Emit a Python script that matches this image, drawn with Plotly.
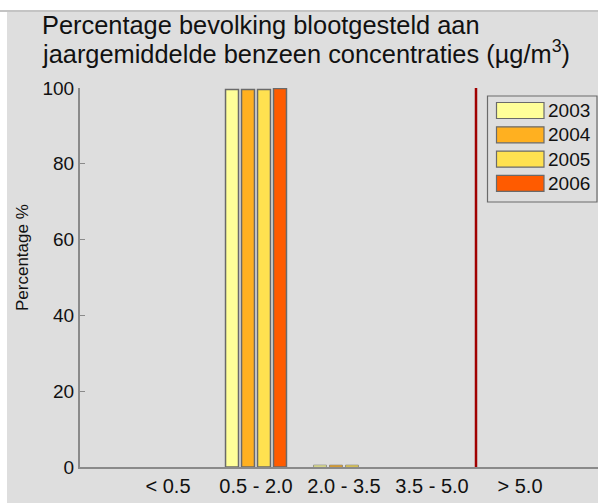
import plotly.graph_objects as go

# Concentration classes (µg/m³) and share of population per year (%)
categories = ["< 0.5", "0.5 - 2.0", "2.0 - 3.5", "3.5 - 5.0", "> 5.0"]
years = ["2003", "2004", "2005", "2006"]
pct_2003 = [0, 99.6, 0.5, 0, 0]
pct_2004 = [0, 99.6, 0.5, 0, 0]
pct_2005 = [0, 99.6, 0.5, 0, 0]
pct_2006 = [0, 99.9, 0.0, 0, 0]
series = [pct_2003, pct_2004, pct_2005, pct_2006]
colors = ["#FFFF99", "#FFB020", "#FFE150", "#FF5B00"]
y_ticks = [0, 20, 40, 60, 80, 100]
limit_pos = 3.5  # boundary between 3.5 - 5.0 and > 5.0 classes
title_lines = ["Percentage bevolking blootgesteld aan",
               "jaargemiddelde benzeen concentraties (µg/m<sup>3</sup>)"]

W, H = 598, 503
L, R, T, B = 80, 598, 88, 467
FONT = "Liberation Sans, Arial, sans-serif"
GREY_BG = "#dedede"
OUTLINE = "#6a6a6a"


def px(x):
    return (x - L) / (R - L)


def py(y):
    return (B - y) / (B - T)


fig = go.Figure()
for name, vals, col in zip(years, series, colors):
    # empty classes get no outline; tiny bars get a thin one
    widths = [0 if v == 0 else (1.5 if v >= 1 else 0.6) for v in vals]
    fig.add_trace(go.Bar(
        x=list(range(len(categories))), y=vals, name=name,
        marker=dict(color=col, line=dict(color=OUTLINE, width=widths)),
        showlegend=False,
    ))

shapes = [
    # white frame strips around the grey panel
    dict(type="rect", xref="paper", yref="paper", x0=px(0), x1=px(W), y0=py(0), y1=py(11),
         fillcolor="white", line_width=0, layer="below"),
    dict(type="rect", xref="paper", yref="paper", x0=px(0), x1=px(7), y0=py(0), y1=py(H),
         fillcolor="white", line_width=0, layer="below"),
    dict(type="line", xref="paper", yref="paper", x0=px(0), x1=px(W), y0=py(11), y1=py(11),
         line=dict(color="#c4c4c4", width=2)),
    # limit line
    dict(type="line", xref="x", yref="y", x0=limit_pos, x1=limit_pos, y0=0, y1=100,
         line=dict(color="#a00000", width=2.5)),
    # legend box
    dict(type="rect", xref="paper", yref="paper", x0=px(487.5), x1=px(597), y0=py(96), y1=py(202),
         line=dict(color=OUTLINE, width=1.2), fillcolor="rgba(0,0,0,0)"),
]

annotations = [
    dict(text="Percentage %", xref="paper", yref="paper", x=px(22), y=py(258),
         textangle=-90, showarrow=False, xanchor="center", yanchor="middle",
         font=dict(family=FONT, size=17, color="#111111")),
]
for i, line in enumerate(title_lines):
    annotations.append(dict(
        text=line, xref="paper", yref="paper", x=px(40), y=py(25 + 26.5 * i),
        xanchor="left", yanchor="middle", align="left", showarrow=False,
        font=dict(family=FONT, size=25.4, color="#111111")))

# legend entries drawn as wide swatches
for i, (name, col) in enumerate(zip(years, colors)):
    top = 102.5 + 24.3 * i
    shapes.append(dict(type="rect", xref="paper", yref="paper",
                       x0=px(496.5), x1=px(544), y0=py(top), y1=py(top + 16),
                       fillcolor=col, line=dict(color=OUTLINE, width=1.2)))
    annotations.append(dict(text=name, xref="paper", yref="paper", x=px(546), y=py(top + 8),
                            xanchor="left", yanchor="middle", showarrow=False,
                            font=dict(family=FONT, size=19, color="#111111")))

fig.update_layout(
    width=W, height=H,
    margin=dict(l=L, r=W - R, t=T, b=H - B),
    paper_bgcolor=GREY_BG, plot_bgcolor=GREY_BG,
    barmode="group", bargap=0.273, bargroupgap=0.19,
    shapes=shapes, annotations=annotations,
    font=dict(family=FONT, color="#111111"),
    xaxis=dict(
        range=[-1, -1 + (R - L) / 88.0],
        tickvals=list(range(len(categories))), ticktext=categories,
        showgrid=False, zeroline=False, showline=True, linecolor="#8a8a8a", linewidth=2,
        ticks="", tickfont=dict(family=FONT, size=20, color="#111111"),
    ),
    yaxis=dict(
        range=[0, 100], tickvals=y_ticks,
        showgrid=False, zeroline=False, showline=True, linecolor="#8a8a8a", linewidth=2,
        ticks="inside", ticklen=5, tickcolor="#8a8a8a", tickwidth=1,
        tickfont=dict(family=FONT, size=19, color="#111111"),
    ),
)

fig.write_html("out.html")
